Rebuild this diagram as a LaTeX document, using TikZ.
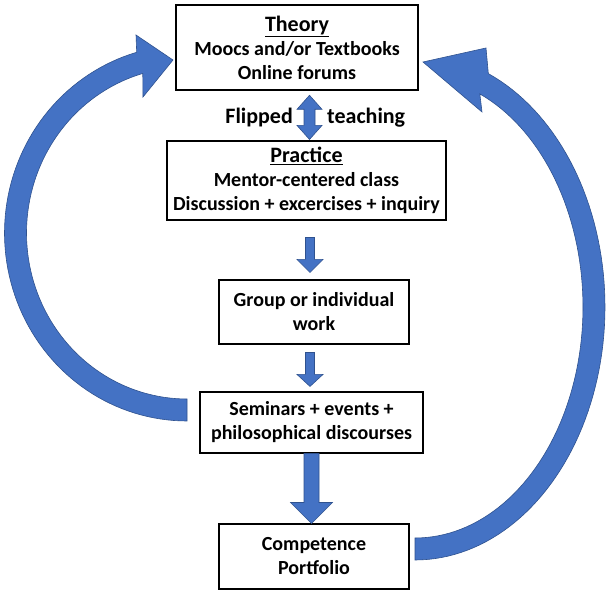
\documentclass[tikz,border=0pt]{standalone}
\usepackage{fontspec}
\setmainfont{Carlito}
\usetikzlibrary{calc}
\definecolor{ablue}{HTML}{4472C4}
\definecolor{aedge}{HTML}{2F528F}
\newcommand{\headtxt}[1]{{\fontsize{22}{24}\selectfont\underline{#1}}}
\tikzset{
  box/.style={draw=black, line width=1.1pt, rectangle, inner sep=0pt, align=center,
    font=\fontsize{20}{24}\selectfont\bfseries},
  thickbox/.style={box, line width=2.6pt},
  lbl/.style={inner sep=0pt, font=\fontsize{22}{26}\selectfont\bfseries},
  blockarrow/.style={fill=ablue, draw=aedge, line width=0.6pt, line join=miter}
}
% vertical down block arrow between two coordinates: #1 start, #2 tip, #3 shaft half width, #4 head half width, #5 head length
\newcommand{\vblockarrow}[5]{%
  \path[blockarrow] let \p1=(#1), \p2=(#2) in
    (\x1-#3pt,\y1) -- (\x1+#3pt,\y1) -- (\x1+#3pt,\y2+#5pt) -- (\x1+#4pt,\y2+#5pt)
    -- (\x1,\y2) -- (\x1-#4pt,\y2+#5pt) -- (\x1-#3pt,\y2+#5pt) -- cycle;}
\begin{document}
\begin{tikzpicture}[x=1pt,y=-1pt]
\useasboundingbox[fill=white] (0,0) rectangle (608,593);

% boxes
\node[thickbox, minimum width=242pt, minimum height=85pt] (theory) at (297,47.5)
  {\headtxt{Theory}\\Moocs and/or Textbooks\\Online forums};
\node[box, minimum width=279pt, minimum height=79pt] (prac) at (306.5,180.5)
  {\headtxt{Practice}\\Mentor-centered class\\Discussion + excercises + inquiry};
\node[box, minimum width=190pt, minimum height=64pt] (group) at (314,312)
  {Group or individual\\work};
\node[box, minimum width=223pt, minimum height=61pt] (sem) at (311.5,422.5)
  {Seminars + events +\\philosophical discourses};
\node[box, minimum width=190pt, minimum height=65pt] (comp) at (314,556.5)
  {Competence\\Portfolio};

% labels
\node[lbl, anchor=east] (flip) at (293,118) {Flipped};
\node[lbl, anchor=west] (teach) at (327,118) {teaching};

% double arrow between theory and practice
\coordinate (dtop) at ($(theory.south)+(12.5,4)$);
\coordinate (dbot) at ($(prac.north)+(3,-1)$);
\path[blockarrow] let \p1=(dtop), \p2=(dbot) in
  (\x1,\y1) -- (\x1+12.5pt,\y1-14pt) -- (\x1+5.5pt,\y1-14pt) -- (\x1+5.5pt,\y2+14pt)
  -- (\x1+12.5pt,\y2+14pt) -- (\x1,\y2) -- (\x1-12.5pt,\y2+14pt) -- (\x1-5.5pt,\y2+14pt)
  -- (\x1-5.5pt,\y1-14pt) -- (\x1-12.5pt,\y1-14pt) -- cycle;

% down arrows
\coordinate (a1s) at ($(prac.south)+(3.5,17)$);
\coordinate (a1e) at ($(group.north)+(-4,-7)$);
\vblockarrow{a1s}{a1e}{4.5}{13}{13}
\coordinate (a2s) at ($(group.south)+(-4,8)$);
\coordinate (a2e) at ($(sem.north)+(-1.5,-5)$);
\vblockarrow{a2s}{a2e}{4.5}{13}{12}
\coordinate (a3s) at ($(sem.south)+(0,0)$);
\coordinate (a3e) at ($(comp.north)+(-3,0)$);
\vblockarrow{a3s}{a3e}{7.5}{21}{21}

% left curved arrow: seminars -> theory
\path[blockarrow]
  plot[domain=270:106, samples=80] ({187+182.5*cos(\x)},{233-188*sin(\x)})
  -- (136,35) -- (173,60) -- (143,97)
  -- plot[domain=106:270, samples=80] ({187+160.5*cos(\x)},{233-166*sin(\x)})
  -- cycle;

% right curved arrow: competence -> theory
\path[blockarrow]
  plot[domain=-90:67.3, samples=80] ({415+190*cos(\x)},{307-253*sin(\x)})
  -- (486,48) -- (423,62) -- (482,112)
  -- plot[domain=67.3:-90, samples=80] ({415+168*cos(\x)},{307-231*sin(\x)})
  -- cycle;
\end{tikzpicture}
\end{document}
